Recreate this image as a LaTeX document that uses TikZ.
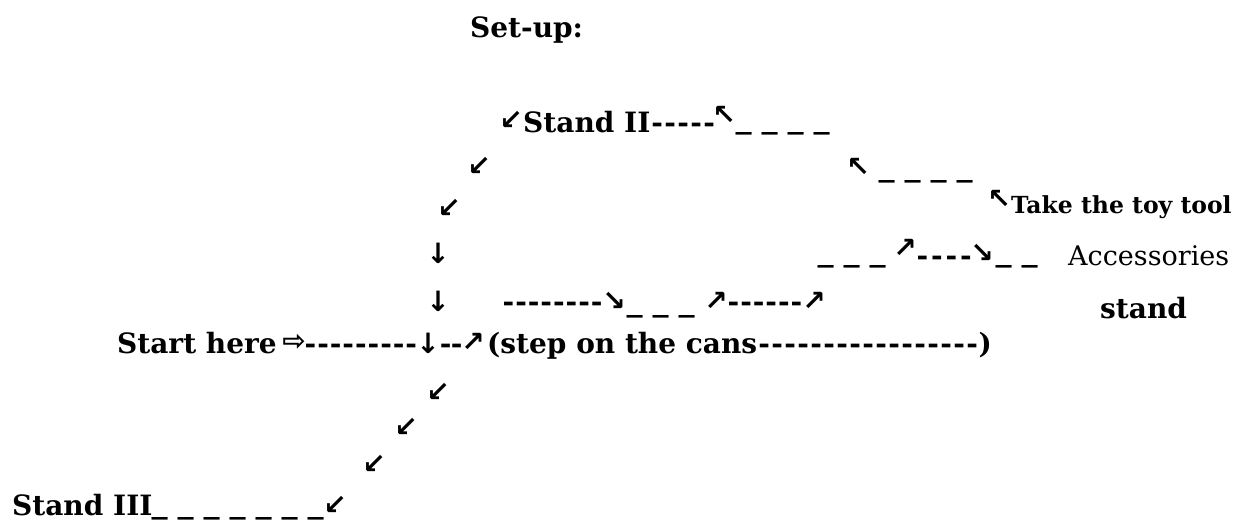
\documentclass[tikz,border=0pt]{standalone}
\usepackage{fontspec}
\setmainfont{DejaVu Serif}
\newfontfamily\arrowfont{DejaVu Sans}
\usepackage{graphicx}
\usetikzlibrary{positioning}
\tikzset{word/.style = {inner sep=0pt, anchor=base west, font=\fontsize{28}{32}\selectfont\bfseries}}
\tikzset{small/.style = {word, font=\fontsize{23.5}{27}\selectfont\bfseries}}
\tikzset{plain/.style = {word, font=\fontsize{27}{30}\selectfont}}
\tikzset{sign/.style = {inner sep=0pt, font=\fontsize{28}{30}\arrowfont\bfseries}}
\newcommand\dashrun[2][13pt]{\foreach \i in {1,...,#2}{\makebox[#1]{-}}}
\newcommand\barrun[1]{\foreach \i in {1,...,#1}{\ifnum\i>1 \hspace{9pt}\fi\makebox[17pt]{\scalebox{1.15}[1]{\_}}}}

\begin{document}
\begin{tikzpicture}[x=1pt,y=-1pt]
                \useasboundingbox (0,0) rectangle (1244,520);
                \node[word] (setup) at (470,37) {Set-up:};

                \node[sign] (sw1) at (511,120) {↙};
                \node[word] (stand2) at (523,132) {Stand II};
                \node[word, anchor=base west] (dash1) at (stand2.base east) {\dashrun{5}};
                \node[sign] (nw1) at (724,115) {↖};
                \node[word] (bar1) at (735,128) {\barrun{4}};

                \node[sign] (sw2) at (479,166) {↙};
                \node[sign] (nw2) at (858,167) {↖};
                \node[word] (bar2) at (878,176) {\barrun{4}};

                \node[sign] (sw3) at (449,208) {↙};
                \node[sign] (nw3) at (999,199) {↖};
                \node[small] (tool) at (1011,213) {Take the toy tool};

                \node[sign] (s1) at (438,253) {↓};
                \node[word] (bar3) at (817,261) {\barrun{3}};
                \node[sign] (ne1) at (905,248) {↗};
                \node[word] (dash2) at (915,265) {\dashrun[14.5pt]{4}};
                \node[sign] (se1) at (982,253) {↘};
                \node[word] (bar4) at (995,261) {\barrun{2}};
                \node[plain] (acc) at (1068,265) {Accessories};

                \node[sign] (s2) at (438,301) {↓};
                \node[word] (dash3) at (502,311) {\dashrun[12.6pt]{8}};
                \node[sign] (se2) at (614,301) {↘};
                \node[word] (bar5) at (626,311) {\barrun{3}};
                \node[sign] (ne2) at (716,301) {↗};
                \node[word] (dash4) at (727,311) {\dashrun[12.6pt]{6}};
                \node[sign] (ne3) at (814,301) {↗};
                \node[word] (stand) at (1100,318) {stand};

                \node[word] (start) at (117,353) {Start here};
                \node[sign] (go) at (294,342) {⇨};
                \node[word] (dash5) at (304,353) {\dashrun[12.6pt]{9}};
                \node[sign] (s3) at (428,343) {↓};
                \node[word] (dash6) at (440,353) {\dashrun[11pt]{2}};
                \node[sign] (ne4) at (473,342) {↗};
                \node[word] (cans) at (487,353) {(step on the cans};
                \node[word, anchor=base west] (dash7) at (cans.base east) {\dashrun{17})};

                \node[sign] (sw4) at (438,392) {↙};
                \node[sign] (sw5) at (406,427) {↙};
                \node[sign] (sw6) at (374,464) {↙};

                \node[word] (stand3) at (12,515) {Stand III};
                \node[word] (bar6) at (151,513) {\barrun{7}};
                \node[sign] (sw7) at (335,505) {↙};
            \end{tikzpicture}
\end{document}
